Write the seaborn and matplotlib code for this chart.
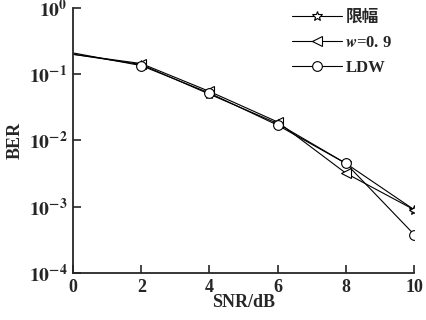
import matplotlib
matplotlib.use("Agg")
import matplotlib.pyplot as plt
import seaborn as sns
import numpy as np
import pandas as pd

snr = [0, 2, 4, 6, 8, 10]
ber_clip = [0.20, 0.14, 0.050, 0.018, 0.0045, 0.0009]
ber_w09 = [0.20, 0.145, 0.055, 0.019, 0.0032, 0.0009]
ber_ldw = [0.21, 0.135, 0.052, 0.017, 0.0045, 0.00038]
labels = ["限幅", r"$\mathbf{\mathit{w}}$=0. 9", "LDW"]
yticks = [1e0, 1e-1, 1e-2, 1e-3, 1e-4]
ytick_labels = [r"$\mathbf{10^{0}}$", r"$\mathbf{10^{-1}}$", r"$\mathbf{10^{-2}}$",
                r"$\mathbf{10^{-3}}$", r"$\mathbf{10^{-4}}$"]
xticks = [0, 2, 4, 6, 8, 10]

sns.set_style("ticks")
plt.rcParams['font.family'] = ['Liberation Serif', 'Noto Sans CJK SC', 'DejaVu Sans']
plt.rcParams['mathtext.fontset'] = 'stix'
plt.rcParams['font.weight'] = 'bold'

fig = plt.figure(figsize=(4.27, 3.2), dpi=100)
ax = fig.add_axes([0.171, 0.147, 0.799, 0.828])

series = [ber_clip, ber_w09, ber_ldw]
markers = ["*", "<", "o"]
msizes = [7, 7.5, 7]
for vals, lab, mk, ms in zip(series, labels, markers, msizes):
    df = pd.DataFrame({"SNR": snr, "BER": vals})
    sns.lineplot(data=df, x="SNR", y="BER", ax=ax, color="black", lw=0.8,
                 marker=mk, markersize=ms, markerfacecolor="white",
                 markeredgecolor="black", markeredgewidth=0.8,
                 markevery=slice(1, None), label=lab)

ax.set_yscale("log")
ax.set_xlim(0, 10)
ax.set_ylim(1e-4, 1e0)
ax.set_xticks(xticks)
ax.set_xticklabels([str(t) for t in xticks], fontsize=13, fontweight="bold")
ax.set_yticks(yticks)
ax.set_yticklabels(ytick_labels, fontsize=14)
ax.minorticks_off()
ax.tick_params(direction="in", length=6, width=1.2, pad=4)
for s in ["top", "right"]:
    ax.spines[s].set_visible(False)
for s in ["left", "bottom"]:
    ax.spines[s].set_linewidth(1.3)
ax.set_xlabel("SNR/dB", fontsize=13, fontweight="bold", labelpad=-1)
ax.set_ylabel("BER", fontsize=13, fontweight="bold", labelpad=4)

leg = ax.legend(loc="upper right", bbox_to_anchor=(0.98, 1.05), frameon=False,
                fontsize=12, handlelength=3.0, handletextpad=0.2, labelspacing=0.55)
for t in leg.get_texts():
    t.set_fontweight("bold")

fig.savefig("out.png", dpi=100)
